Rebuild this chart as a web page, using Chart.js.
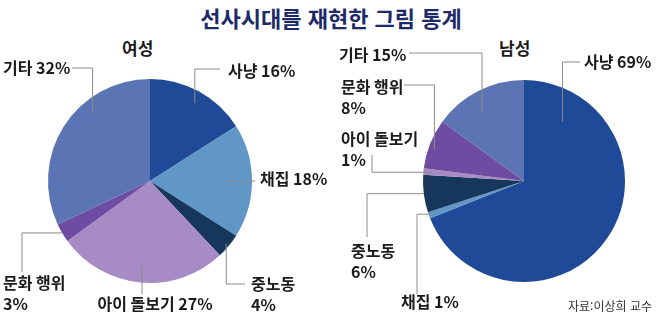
<!DOCTYPE html>
<html lang="ko">
<head>
<meta charset="utf-8">
<script src="https://cdn.jsdelivr.net/npm/chart.js@4.4.1/dist/chart.umd.min.js"></script>
<style>
  html, body { margin: 0; padding: 0; background: #fff; }
  #stage { position: relative; width: 658px; height: 324px; overflow: hidden; font-family: "Noto Sans CJK KR", "Noto Sans", sans-serif; }
  #stage canvas { position: absolute; top: 0; }
  .txt { position: absolute; white-space: nowrap; line-height: 1; }
  #title { left: 0; width: 662px; top: 6px; text-align: center; font-size: 22px; font-weight: 700; color: #1d2a68; }
  .sub { top: 39px; font-size: 17px; font-weight: 700; color: #1b1b1b; }
  #source { left: 568px; top: 300px; font-size: 12px; color: #333; }
</style>
</head>
<body>
<div id="stage">
  <div id="title" class="txt">선사시대를 재현한 그림 통계</div>
  <div class="txt sub" style="left:122px">여성</div>
  <div class="txt sub" style="left:499px">남성</div>
  <canvas id="female" width="329" height="324" style="left:0"></canvas>
  <canvas id="male" width="329" height="324" style="left:329px"></canvas>
  <div id="source" class="txt">자료:이상희 교수</div>
</div>
<script>
// Activity categories, in clockwise order from 12 o'clock
const categories = ['사냥', '채집', '중노동', '아이 돌보기', '문화 행위', '기타'];
// Share of pictures (%) by gender
const femaleShare = [16, 18, 4, 27, 3, 32];
const maleShare = [69, 1, 6, 1, 8, 15];

const sliceColors = ['#1e4a97', '#6097c7', '#16375b', '#a78bc5', '#6e4ca1', '#5b74b3'];

// Callout placement (page coordinates): where each label sits and how its leader line bends.
// t / rf: position of the line's start inside the slice (fraction of sweep / of radius).
// bend 'vh': vertical to y, then horizontal to x.  bend 'hv': horizontal to x, then vertical to y.
const femaleCallouts = [
  { t: 0.52, rf: 0.88, bend: 'vh', x: 220, y: 69,  lx: 228, ly: 71,  wrap: false },
  { t: 0.5,  rf: 0.75, bend: 'vh', x: 255, y: null, lx: 260, ly: 179, wrap: false },
  { t: 0.5,  rf: 0.97, bend: 'vh', x: 245, y: 284, lx: 251, ly: 284, wrap: true },
  { t: 0.5,  rf: 0.83, bend: 'vh', x: null, y: 294, lx: 155, ly: 304, wrap: false, center: true },
  { t: 0.5,  rf: 1.0,  bend: 'hv', x: 22,  y: 272, lx: 3,   ly: 283, wrap: true },
  { t: 0.65, rf: 0.87, bend: 'vh', x: 72,  y: 68,  lx: 3,   ly: 68,  wrap: false }
];
const maleCallouts = [
  { t: 0.133, rf: 0.7,  bend: 'vh', x: 580, y: 62,  lx: 584, ly: 62,  wrap: false },
  { t: 0.5,   rf: 0.97, bend: 'hv', x: 417, y: 294, lx: 401, ly: 302, wrap: false },
  { t: 0.5,   rf: 1.0,  bend: 'hv', x: 367, y: 237, lx: 351, ly: 251, wrap: true },
  { t: 0.5,   rf: 0.92, bend: 'hv', x: 372, y: 155, lx: 341, ly: 139, wrap: true },
  { t: 0.42,  rf: 0.94, bend: 'vh', x: 404, y: 85,  lx: 341, ly: 87,  wrap: true },
  { t: 0.42,  rf: 0.8,  bend: 'vh', x: 409, y: 53,  lx: 339, ly: 55,  wrap: false }
];

// Draws leader lines and "category value%" labels next to each slice
const calloutPlugin = {
  id: 'callouts',
  afterDraw(chart, args, opts) {
    const ctx = chart.ctx;
    const meta = chart.getDatasetMeta(0);
    const values = chart.data.datasets[0].data;
    const off = opts.offsetX;
    ctx.save();
    meta.data.forEach((arc, i) => {
      const c = opts.layout[i];
      const p = arc.getProps(['x', 'y', 'startAngle', 'endAngle', 'outerRadius'], true);
      const a = p.startAngle + c.t * (p.endAngle - p.startAngle);
      const r = p.outerRadius * c.rf;
      const ax = p.x + Math.cos(a) * r;
      const ay = p.y + Math.sin(a) * r;
      ctx.beginPath();
      ctx.strokeStyle = '#8c8c8c';
      ctx.lineWidth = 1;
      ctx.moveTo(ax, ay);
      if (c.bend === 'vh') {
        const ey = c.y === null ? ay : c.y;
        const ex = c.x === null ? ax : c.x - off;
        ctx.lineTo(ax, ey);
        ctx.lineTo(ex, ey);
      } else {
        const ex = c.x - off;
        ctx.lineTo(ex, ay);
        ctx.lineTo(ex, c.y);
      }
      ctx.stroke();

      const name = chart.data.labels[i];
      const pct = values[i] + '%';
      ctx.fillStyle = '#1c1c1c';
      ctx.font = '600 16px "Noto Sans CJK KR", "Noto Sans", sans-serif';
      ctx.textBaseline = 'middle';
      ctx.textAlign = c.center ? 'center' : 'left';
      const lx = c.lx - off;
      if (c.wrap) {
        ctx.fillText(name, lx, c.ly);
        ctx.fillText(pct, lx, c.ly + 21);
      } else {
        ctx.fillText(name + ' ' + pct, lx, c.ly);
      }
    });
    ctx.restore();
  }
};

function makePie(id, values, padding, layout, offsetX) {
  return new Chart(document.getElementById(id), {
    type: 'pie',
    data: {
      labels: categories,
      datasets: [{ data: values, backgroundColor: sliceColors, borderWidth: 0 }]
    },
    options: {
      responsive: false,
      animation: false,
      layout: { padding },
      plugins: {
        legend: { display: false },
        tooltip: { enabled: false },
        callouts: { layout, offsetX }
      }
    },
    plugins: [calloutPlugin]
  });
}

makePie('female', femaleShare, { left: 48, right: 77, top: 79, bottom: 41 }, femaleCallouts, 0);
makePie('male', maleShare, { left: 94, right: 33, top: 80, bottom: 42 }, maleCallouts, 329);
</script>
</body>
</html>
